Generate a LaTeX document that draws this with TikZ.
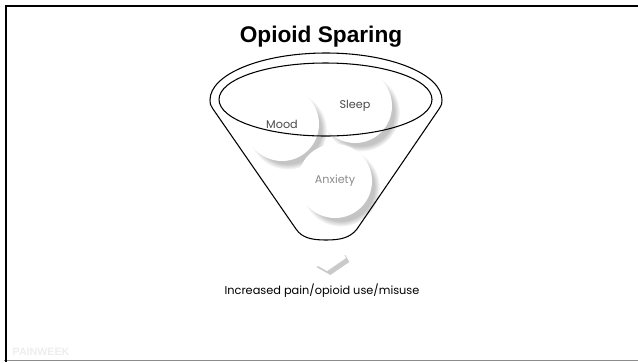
\documentclass[tikz,border=0pt]{standalone}
\usepackage{fontspec}
\setmainfont{Poppins}
\newfontfamily\titlefont{Liberation Sans}
\usetikzlibrary{shadows,positioning}
\definecolor{moodgray}{HTML}{4A4A4A}
\definecolor{anxgray}{HTML}{8C8C8C}
\definecolor{shadegray}{HTML}{8A8A8A}

\tikzset{
  bubble/.style={circle, fill=white, minimum size=55.5pt, inner sep=0pt,
    circular drop shadow={shadow xshift=4pt, shadow yshift=-4.5pt, shadow scale=1.06, fill=shadegray, opacity=0.5}},
  rimline/.style={line width=0.8pt, black},
}

\begin{document}
\begin{tikzpicture}[x=0.75pt, y=-0.75pt, every node/.style={font=\fontsize{8.4}{10}\selectfont}]
  \useasboundingbox (0,0) rectangle (638,362);
  % slide frame
  \draw[black!45, line width=1.3pt] (4,360.5) -- (638,360.5);
  \draw[black, line width=2.2pt] (6,362) -- (6,6) -- (638,6);

  \node[font=\titlefont\bfseries\fontsize{17}{20}\selectfont] (title) at (321,37) {Opioid Sparing};

  % bubbles inside the funnel
  \node[bubble, text=moodgray] (sleep) at (355,106) {Sleep};
  \node[bubble, text=moodgray] (mood) at (282,124) {Mood};
  \node[bubble, text=anxgray] (anx) at (335,181) {Anxiety};

  % funnel
  \draw[rimline] (325.5,99.5) ellipse[x radius=106.5, y radius=36.5];
  \draw[rimline] (210,100) .. controls (210,74) and (262,53) .. (326,53)
    .. controls (390,53) and (442,74) .. (442,100)
    .. controls (442,104) .. (439,109) -- (357,229)
    .. controls (350,238) and (340,240) .. (326,240)
    .. controls (312,240) and (302,238) .. (296,229)
    -- (213,109) .. controls (210,104) .. cycle;

  % down chevron
  \fill[white, drop shadow={shadow xshift=2.5pt, shadow yshift=-3pt, fill=shadegray, opacity=0.45}]
    (313,263) -- (327,271) -- (346,258) -- (342,251) -- cycle;

  \node[font=\fontsize{8.5}{10}\selectfont] (out) at (322,291) {Increased pain/opioid use/misuse};
  \node[text=black!7, font=\titlefont\bfseries\fontsize{8}{9}\selectfont, anchor=west] (brand) at (8,352) {PAINWEEK};
\end{tikzpicture}
\end{document}
